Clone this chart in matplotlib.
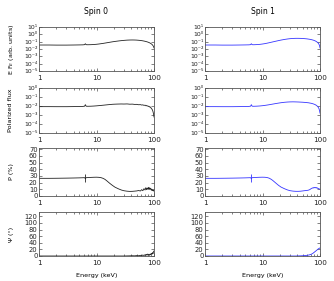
import matplotlib
matplotlib.use("Agg")
import matplotlib.pyplot as plt
from matplotlib.ticker import LogLocator, FixedLocator, NullFormatter, FixedFormatter

# ---------------- data ----------------
energy = [1, 1.5, 2, 3, 4, 5, 5.8, 6.2, 6.4, 6.6, 7, 8, 9, 10, 11, 12, 13, 14, 15, 17,
          19, 21, 24, 27, 30, 34, 38, 42, 46, 50, 54, 58, 61, 64, 67, 70, 72, 74, 76, 78,
          80, 82, 84, 86, 88, 90, 92, 94, 96, 98, 100]

flux_spin0 = [0.035, 0.035, 0.034, 0.034, 0.035, 0.036, 0.037, 0.039, 0.052, 0.039, 0.038,
              0.039, 0.041, 0.044, 0.048, 0.053, 0.058, 0.064, 0.070, 0.083, 0.096, 0.108,
              0.124, 0.138, 0.150, 0.162, 0.168, 0.170, 0.168, 0.163, 0.155, 0.146, 0.138,
              0.130, 0.121, 0.112, 0.106, 0.100, 0.094, 0.088, 0.082, 0.075, 0.069, 0.062,
              0.056, 0.049, 0.043, 0.036, 0.029, 0.022, 0.014]
flux_spin1 = [0.035, 0.035, 0.034, 0.034, 0.035, 0.036, 0.037, 0.039, 0.052, 0.039, 0.038,
              0.040, 0.043, 0.048, 0.054, 0.062, 0.071, 0.081, 0.092, 0.115, 0.140, 0.165,
              0.200, 0.230, 0.255, 0.275, 0.285, 0.285, 0.280, 0.270, 0.258, 0.245, 0.233,
              0.220, 0.207, 0.193, 0.183, 0.173, 0.163, 0.152, 0.141, 0.130, 0.118, 0.106,
              0.094, 0.082, 0.070, 0.057, 0.044, 0.030, 0.014]

pflux_spin0 = [0.0085, 0.0085, 0.0084, 0.0084, 0.0086, 0.0088, 0.0090, 0.0095, 0.0140, 0.0095,
               0.0093, 0.0095, 0.0099, 0.0104, 0.0110, 0.0116, 0.0122, 0.0128, 0.0134, 0.0145,
               0.0155, 0.0160, 0.0165, 0.0168, 0.0165, 0.0170, 0.0158, 0.0162, 0.0150, 0.0152,
               0.0138, 0.0142, 0.0128, 0.0134, 0.0118, 0.0124, 0.0106, 0.0114, 0.0098, 0.0104,
               0.0088, 0.0093, 0.0076, 0.0079, 0.0062, 0.0058, 0.0045, 0.0036, 0.0024, 0.0014,
               0.0006]
pflux_spin1 = [0.0085, 0.0085, 0.0084, 0.0084, 0.0086, 0.0088, 0.0090, 0.0095, 0.0140, 0.0095,
               0.0093, 0.0096, 0.0101, 0.0108, 0.0117, 0.0127, 0.0138, 0.0150, 0.0162, 0.0187,
               0.0210, 0.0232, 0.0258, 0.0275, 0.0285, 0.0290, 0.0285, 0.0278, 0.0270, 0.0262,
               0.0252, 0.0245, 0.0232, 0.0225, 0.0210, 0.0202, 0.0190, 0.0184, 0.0172, 0.0165,
               0.0152, 0.0145, 0.0130, 0.0122, 0.0106, 0.0096, 0.0081, 0.0066, 0.0050, 0.0033,
               0.0016]

pol_spin0 = [26.5, 26.5, 26.6, 26.8, 27.0, 27.2, 27.4, 27.5, 26.0, 27.5, 27.6, 27.9, 28.1, 28.2,
             28.0, 27.5, 26.5, 25.0, 23.0, 19.0, 15.8, 13.2, 10.8, 9.0, 7.9, 7.2, 6.9, 7.0, 7.3,
             7.6, 8.2, 7.5, 9.5, 8.0, 11.0, 9.0, 12.5, 9.5, 12.0, 10.0, 13.0, 9.5, 12.5, 10.0,
             11.5, 8.5, 10.0, 8.0, 9.0, 7.5, 8.0]
pol_spin1 = [26.5, 26.5, 26.6, 26.8, 27.0, 27.2, 27.4, 27.5, 26.0, 27.5, 27.6, 27.9, 28.1, 28.2,
             28.1, 27.7, 26.8, 25.3, 23.5, 19.5, 16.0, 13.4, 11.0, 9.2, 8.0, 7.3, 7.0, 7.0, 7.2,
             7.6, 8.0, 8.3, 8.5, 9.0, 9.8, 11.0, 11.5, 12.2, 11.8, 12.8, 12.3, 13.0, 12.2, 12.8,
             11.8, 12.2, 11.2, 11.3, 10.5, 10.6, 10.0]

psi_spin0 = [0, 0, 0, 0, 0, 0, 0, 0, 0, 0, 0, 0, 0, 0, 0, 0, 0, 0, 0, 0, 0, 0, 0, 0, 0,
             0.3, 0.5, 0.8, 0.5, 1.2, 0.8, 2.0, 1.0, 3.0, 1.5, 4.0, 2.0, 5.0, 2.5, 6.0, 3.0,
             5.0, 2.0, 6.0, 4.0, 8.0, 5.0, 10.0, 7.0, 13.0, 15.0]
psi_spin1 = [0, 0, 0, 0, 0, 0, 0, 0, 0, 0, 0, 0, 0, 0, 0, 0, 0, 0, 0, 0, 0, 0, 0, 0, 0,
             0, 0, 0.3, 0.5, 0.8, 1.2, 1.8, 2.3, 3.0, 4.0, 5.0, 6.0, 7.5, 8.5, 10.5, 11.5,
             13.5, 14.5, 16.5, 17.5, 19.5, 20.5, 22.0, 22.5, 24.0, 24.0]

# iron line feature (error bar in polarization degree)
fe_energy = 6.3
fe_pol = 27.0
fe_pol_err = 6.0

titles = ["Spin 0", "Spin 1"]
ylabels = ["E F$_E$ (arb. units)", "Polarized flux", "P (%)", "\u03a8 (\u00b0)"]
colors = ["#222222", "#3535ff"]

# ---------------- figure ----------------
W, H = 334, 281
fig = plt.figure(figsize=(W / 100, H / 100), dpi=100)
plt.rcParams['font.family'] = ['DejaVu Sans']

cols_px = [(39, 154), (205, 320)]
rows_px = [(27, 71), (88, 133), (148, 196), (212, 256)]

tick_fs = 5.2
log_fs = 4.4
lab_fs = 4.6
frame_col = "#555555"

series = [
    (flux_spin0, flux_spin1),
    (pflux_spin0, pflux_spin1),
    (pol_spin0, pol_spin1),
    (psi_spin0, psi_spin1),
]

SUP = str.maketrans("-0123456789", "\u207b\u2070\u00b9\u00b2\u00b3\u2074\u2075\u2076\u2077\u2078\u2079")


def log_labels(exps):
    return ["10" + str(e).translate(SUP) for e in exps]


for c, (x0, x1) in enumerate(cols_px):
    for r, (y0, y1) in enumerate(rows_px):
        ax = fig.add_axes([x0 / W, 1 - y1 / H, (x1 - x0) / W, (y1 - y0) / H])
        yvals = series[r][c]
        ax.plot(energy, yvals, color=colors[c], lw=0.6)
        ax.set_xscale("log")
        ax.set_xlim(1, 100)
        ax.xaxis.set_major_locator(FixedLocator([1, 10, 100]))
        ax.xaxis.set_major_formatter(FixedFormatter(["1", "10", "100"]))
        ax.xaxis.set_minor_locator(LogLocator(base=10, subs=range(2, 10)))
        ax.xaxis.set_minor_formatter(NullFormatter())
        ylab_fs = tick_fs - 0.3
        if r == 0:
            ax.set_yscale("log")
            ax.set_ylim(1e-5, 10)
            exps = list(range(-5, 2))
            ax.yaxis.set_major_locator(FixedLocator([10.0 ** e for e in exps]))
            ax.yaxis.set_major_formatter(FixedFormatter(log_labels(exps)))
            ax.yaxis.set_minor_locator(FixedLocator([]))
            ylab_fs = log_fs
        elif r == 1:
            ax.set_yscale("log")
            ax.set_ylim(1e-5, 1)
            exps = list(range(-5, 1))
            ax.yaxis.set_major_locator(FixedLocator([10.0 ** e for e in exps]))
            ax.yaxis.set_major_formatter(FixedFormatter(log_labels(exps)))
            ax.yaxis.set_minor_locator(FixedLocator([]))
            ylab_fs = log_fs
        elif r == 2:
            ax.set_ylim(0, 72)
            ax.yaxis.set_major_locator(FixedLocator(list(range(0, 71, 10))))
            ax.errorbar([fe_energy], [fe_pol], yerr=[fe_pol_err], color=colors[c],
                        lw=0.6, capsize=0)
        else:
            ax.set_ylim(0, 133)
            ax.yaxis.set_major_locator(FixedLocator(list(range(0, 121, 20))))

        ax.tick_params(axis="both", which="both", direction="in", top=True, right=True,
                       labelsize=tick_fs, pad=1.5, colors="#222222", width=0.4)
        ax.tick_params(axis="both", which="major", length=2.2)
        ax.tick_params(axis="both", which="minor", length=1.2)
        ax.tick_params(axis="y", pad=1.0)
        ax.tick_params(axis="x", pad=3.0)
        for sp in ax.spines.values():
            sp.set_linewidth(0.6)
            sp.set_color(frame_col)
        for lbl in ax.get_yticklabels():
            lbl.set_fontsize(ylab_fs)

        if r == 0:
            ax.set_title(titles[c], fontsize=5.5, pad=9)
        if r == 3:
            ax.set_xlabel("Energy (keV)", fontsize=4.6, labelpad=5)
        if c == 0:
            fig.text(11 / W, 1 - ((y0 + y1) / 2) / H, ylabels[r], rotation=90,
                     fontsize=lab_fs, ha="center", va="center")

fig.savefig("out.png", dpi=100)
